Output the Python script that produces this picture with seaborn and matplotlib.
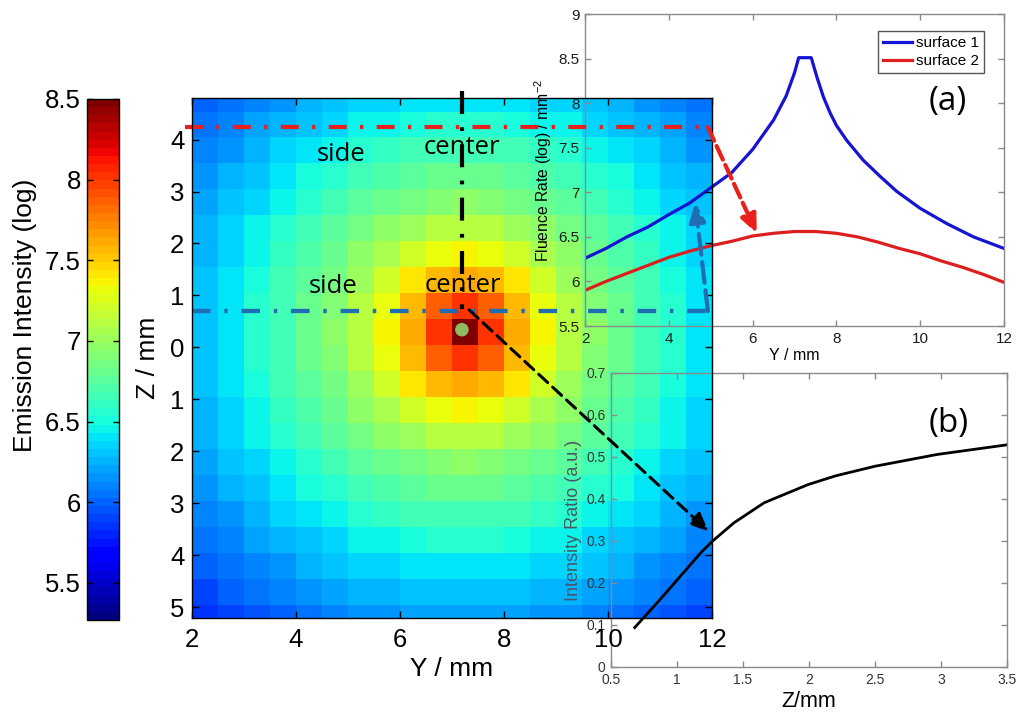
import numpy as np
import pandas as pd
import matplotlib
matplotlib.use("Agg")
import matplotlib.pyplot as plt
import seaborn as sns
from matplotlib.ticker import FormatStrFormatter

# ---------------- data ----------------
# heat-map cells (0.5 mm blocks): Y cell centres (columns) and Z cell centres (rows)
y_centers = [2.25, 2.75, 3.25, 3.75, 4.25, 4.75, 5.25, 5.75, 6.25, 6.75,
             7.25, 7.75, 8.25, 8.75, 9.25, 9.75, 10.25, 10.75, 11.25, 11.75]
z_centers = [4.79, 4.29, 3.79, 3.29, 2.79, 2.29, 1.79, 1.29, 0.79, 0.29,
             -0.21, -0.71, -1.21, -1.71, -2.21, -2.71, -3.21, -3.71, -4.21, -4.71, -5.21]
emission = [
    [5.98, 6.04, 6.11, 6.17, 6.23, 6.29, 6.34, 6.37, 6.40, 6.42, 6.43, 6.42, 6.40, 6.37, 6.34, 6.29, 6.23, 6.17, 6.11, 6.04],
    [6.04, 6.11, 6.18, 6.25, 6.32, 6.38, 6.44, 6.48, 6.52, 6.54, 6.54, 6.54, 6.52, 6.48, 6.44, 6.38, 6.32, 6.25, 6.18, 6.11],
    [6.09, 6.17, 6.25, 6.33, 6.40, 6.48, 6.54, 6.59, 6.64, 6.66, 6.67, 6.66, 6.64, 6.59, 6.54, 6.48, 6.40, 6.33, 6.25, 6.17],
    [6.14, 6.23, 6.32, 6.40, 6.49, 6.57, 6.64, 6.71, 6.76, 6.79, 6.80, 6.79, 6.76, 6.71, 6.64, 6.57, 6.49, 6.40, 6.32, 6.23],
    [6.19, 6.29, 6.38, 6.48, 6.57, 6.66, 6.75, 6.82, 6.88, 6.92, 6.94, 6.92, 6.88, 6.82, 6.75, 6.66, 6.57, 6.48, 6.38, 6.29],
    [6.24, 6.34, 6.44, 6.54, 6.64, 6.75, 6.84, 6.94, 7.03, 7.10, 7.12, 7.10, 7.03, 6.94, 6.84, 6.75, 6.64, 6.54, 6.44, 6.34],
    [6.27, 6.37, 6.48, 6.59, 6.71, 6.82, 6.94, 7.07, 7.22, 7.32, 7.36, 7.32, 7.22, 7.07, 6.94, 6.82, 6.71, 6.59, 6.48, 6.37],
    [6.30, 6.40, 6.52, 6.64, 6.76, 6.88, 7.03, 7.22, 7.42, 7.55, 7.62, 7.55, 7.42, 7.22, 7.03, 6.88, 6.76, 6.64, 6.52, 6.40],
    [6.32, 6.42, 6.54, 6.66, 6.79, 6.92, 7.10, 7.32, 7.55, 7.85, 8.00, 7.85, 7.55, 7.32, 7.10, 6.92, 6.79, 6.66, 6.54, 6.42],
    [6.32, 6.43, 6.54, 6.67, 6.80, 6.94, 7.12, 7.36, 7.62, 8.00, 8.50, 8.00, 7.62, 7.36, 7.12, 6.94, 6.80, 6.67, 6.54, 6.43],
    [6.32, 6.42, 6.54, 6.66, 6.79, 6.92, 7.10, 7.32, 7.55, 7.85, 8.00, 7.85, 7.55, 7.32, 7.10, 6.92, 6.79, 6.66, 6.54, 6.42],
    [6.30, 6.40, 6.52, 6.64, 6.76, 6.88, 7.03, 7.22, 7.42, 7.55, 7.62, 7.55, 7.42, 7.22, 7.03, 6.88, 6.76, 6.64, 6.52, 6.40],
    [6.27, 6.37, 6.48, 6.59, 6.71, 6.82, 6.94, 7.07, 7.22, 7.32, 7.36, 7.32, 7.22, 7.07, 6.94, 6.82, 6.71, 6.59, 6.48, 6.37],
    [6.24, 6.34, 6.44, 6.54, 6.64, 6.75, 6.84, 6.94, 7.03, 7.10, 7.12, 7.10, 7.03, 6.94, 6.84, 6.75, 6.64, 6.54, 6.44, 6.34],
    [6.19, 6.29, 6.38, 6.48, 6.57, 6.66, 6.75, 6.82, 6.88, 6.92, 6.94, 6.92, 6.88, 6.82, 6.75, 6.66, 6.57, 6.48, 6.38, 6.29],
    [6.14, 6.23, 6.32, 6.40, 6.49, 6.57, 6.64, 6.71, 6.76, 6.79, 6.80, 6.79, 6.76, 6.71, 6.64, 6.57, 6.49, 6.40, 6.32, 6.23],
    [6.09, 6.17, 6.25, 6.33, 6.40, 6.48, 6.54, 6.59, 6.64, 6.66, 6.67, 6.66, 6.64, 6.59, 6.54, 6.48, 6.40, 6.33, 6.25, 6.17],
    [6.04, 6.11, 6.18, 6.25, 6.32, 6.38, 6.44, 6.48, 6.52, 6.54, 6.54, 6.54, 6.52, 6.48, 6.44, 6.38, 6.32, 6.25, 6.18, 6.11],
    [5.98, 6.04, 6.11, 6.17, 6.23, 6.29, 6.34, 6.37, 6.40, 6.42, 6.43, 6.42, 6.40, 6.37, 6.34, 6.29, 6.23, 6.17, 6.11, 6.04],
    [5.92, 5.98, 6.04, 6.09, 6.14, 6.19, 6.24, 6.27, 6.30, 6.32, 6.32, 6.32, 6.30, 6.27, 6.24, 6.19, 6.14, 6.09, 6.04, 5.98],
    [5.86, 5.91, 5.97, 6.02, 6.06, 6.10, 6.13, 6.17, 6.19, 6.21, 6.21, 6.21, 6.19, 6.17, 6.13, 6.10, 6.06, 6.02, 5.97, 5.91],
]
cbar_ticks = [5.5, 6.0, 6.5, 7.0, 7.5, 8.0, 8.5]
main_y_ticks = [2, 4, 6, 8, 10, 12]
main_z_tick_pos = [4, 3, 2, 1, 0, -1, -2, -3, -4, -5]
main_z_tick_labels = ["4", "3", "2", "1", "0", "1", "2", "3", "4", "5"]

# source position and guide lines (main map, mm)
source_y = [7.19]
source_z = [0.34]
surface2_z = 4.24      # red guide (surface 2)
surface1_z = 0.70      # blue guide (surface 1)

# inset (a): fluence profiles
surf1_y = [2.0, 2.5, 3.0, 3.5, 4.0, 4.5, 5.0, 5.5, 6.0, 6.5, 6.8, 7.0, 7.1, 7.4,
           7.53, 7.69, 7.85, 8.0, 8.25, 8.64, 9.04, 9.44, 10.0, 10.63, 11.27, 12.0]
surf1_val = [6.26, 6.37, 6.50, 6.61, 6.75, 6.88, 7.05, 7.22, 7.48, 7.81, 8.08, 8.34, 8.51, 8.51,
             8.30, 8.07, 7.89, 7.75, 7.58, 7.36, 7.18, 7.01, 6.82, 6.65, 6.50, 6.37]
surf2_y = [2.0, 2.5, 3.0, 3.5, 4.0, 4.5, 5.0, 5.5, 6.0, 6.5, 7.0, 7.5, 8.0, 8.5,
           9.0, 9.5, 10.0, 10.5, 11.0, 11.5, 12.0]
surf2_val = [5.90, 6.00, 6.09, 6.18, 6.27, 6.34, 6.40, 6.45, 6.51, 6.54, 6.56, 6.56, 6.54, 6.50,
             6.44, 6.37, 6.31, 6.23, 6.16, 6.08, 5.99]

# inset (b): intensity ratio vs depth
ratio_z = [0.68, 0.87, 1.05, 1.18, 1.27, 1.43, 1.66, 1.99, 2.2, 2.5, 2.97, 3.5]
ratio_val = [0.094, 0.16, 0.225, 0.272, 0.30, 0.343, 0.391, 0.434, 0.455, 0.478, 0.506, 0.529]

# ---------------- figure ----------------
plt.rcParams["font.family"] = ["Liberation Sans", "DejaVu Sans"]
plt.rcParams["mathtext.default"] = "regular"

W, H = 1021, 715
fig = plt.figure(figsize=(W / 100, H / 100), dpi=100, facecolor="white")


def rect(l, t, r, b):
    return [l / W, 1 - b / H, (r - l) / W, (b - t) / H]


ax_h = fig.add_axes(rect(192, 98, 712, 618))
cax = fig.add_axes(rect(87, 99, 119, 620))
ax_a = fig.add_axes(rect(585, 14, 1004, 326))
ax_b = fig.add_axes(rect(611, 373, 1007, 667))
ov = fig.add_axes(rect(192, 98, 712, 618))
ax_h.set_zorder(0)
ax_a.set_zorder(1)
ax_b.set_zorder(1)
ov.set_zorder(3)

# heat map
df = pd.DataFrame(emission, index=z_centers, columns=y_centers)
sns.heatmap(df, ax=ax_h, cmap=plt.get_cmap("jet", 64), vmin=5.27, vmax=8.5,
            cbar_ax=cax, xticklabels=False, yticklabels=False)
ax_h.set_xlim(0, 20)
ax_h.set_ylim(20.5, 0.48)
ax_h.set_xlabel("")
ax_h.set_ylabel("")
ax_h.tick_params(left=False, bottom=False)

# colour bar
cb = ax_h.collections[0].colorbar
cb.set_ticks(cbar_ticks)
cb.ax.yaxis.set_major_formatter(FormatStrFormatter("%g"))
cb.ax.tick_params(axis="y", left=True, right=True, labelleft=True, labelright=False,
                  direction="in", length=4, width=1, labelsize=18.5, pad=4.5)
cb.ax.yaxis.set_label_position("left")
cb.set_label("Emission Intensity (log)", fontsize=19)
cb.ax.yaxis.set_label_coords(-1.55, 0.585)
cb.outline.set_edgecolor("black")
cb.outline.set_linewidth(1)

# overlay axes in mm for the main map
ov.set_facecolor("none")
ov.set_xlim(2, 12)
ov.set_ylim(-5.21, 4.80)
ov.set_xticks(main_y_ticks)
ov.set_yticks(main_z_tick_pos)
ov.set_yticklabels(main_z_tick_labels)
ov.tick_params(direction="in", top=True, right=True, length=5, width=1,
               labelsize=18.5, colors="black")
ov.tick_params(axis="x", pad=7)
ov.tick_params(axis="y", pad=5.5)
ov.set_xlabel("Y / mm", fontsize=19, labelpad=4)
ov.set_ylabel("Z / mm", fontsize=19, labelpad=7)
for s in ov.spines.values():
    s.set_color("black")
    s.set_linewidth(1)

red = "#e8201c"
blue_guide = "#1f6db3"
dashdot = (0, (4.3, 3.2, 0.8, 3.2))

ov.plot([1.87, 11.92], [surface2_z, surface2_z], color=red, lw=3, ls=dashdot,
        clip_on=False, solid_capstyle="butt")
ov.plot([2.0, 11.92], [surface1_z, surface1_z], color=blue_guide, lw=3.1, ls=dashdot,
        clip_on=False)
ov.plot([source_y[0], source_y[0]], [4.94, 0.74], color="black", lw=3,
        ls=(0, (5.5, 3.2, 0.9, 3.2)), clip_on=False)
sns.scatterplot(x=source_y, y=source_z, ax=ov, s=95, color="#8dbb5e",
                edgecolor="none", zorder=5, legend=False)

ov.text(4.87, 3.71, "side", fontsize=18.5, family="Open Sans", ha="center", va="center")
ov.text(7.19, 3.84, "center", fontsize=18.5, family="Open Sans", ha="center", va="center")
ov.text(4.71, 1.18, "side", fontsize=18.5, family="Open Sans", ha="center", va="center")
ov.text(7.21, 1.20, "center", fontsize=18.5, family="Open Sans", ha="center", va="center")

# connecting arrows
ov.annotate("", xy=(6.10, 6.54), xycoords=ax_a.transData,
            xytext=(11.92, surface2_z), textcoords=ov.transData,
            arrowprops=dict(arrowstyle="-|>,head_length=0.55,head_width=0.24",
                            mutation_scale=20, color=red, lw=3,
                            linestyle=(0, (3.6, 1.4)), shrinkA=0, shrinkB=0),
            annotation_clip=False)
ov.annotate("", xy=(4.63, 6.88), xycoords=ax_a.transData,
            xytext=(11.92, surface1_z), textcoords=ov.transData,
            arrowprops=dict(arrowstyle="-|>,head_length=0.55,head_width=0.24",
                            mutation_scale=20, color=blue_guide, lw=3,
                            linestyle=(0, (5, 1.8)), shrinkA=0, shrinkB=0),
            annotation_clip=False)
ov.annotate("", xy=(1.239, 0.323), xycoords=ax_b.transData,
            xytext=(7.33, 0.72), textcoords=ov.transData,
            arrowprops=dict(arrowstyle="-|>,head_length=0.55,head_width=0.24",
                            mutation_scale=20, color="black", lw=2.2,
                            linestyle=(0, (4, 2.2)), shrinkA=0, shrinkB=0),
            annotation_clip=False)

# ---------------- inset (a) ----------------
grey = "#8a8a8a"
for ax in (ax_a, ax_b):
    ax.set_facecolor("none")
    for s in ax.spines.values():
        s.set_color(grey)
        s.set_linewidth(1)
    ax.tick_params(direction="in", top=True, right=True, length=4, width=1,
                   color=grey, labelcolor="#1c1c1c", pad=4)

sns.lineplot(x=surf1_y, y=surf1_val, ax=ax_a, color="#1414d2", lw=2.3, label="surface 1")
sns.lineplot(x=surf2_y, y=surf2_val, ax=ax_a, color="#dc1e1e", lw=2.3, label="surface 2")
ax_a.set_xlim(2, 12)
ax_a.set_ylim(5.5, 9)
ax_a.set_xticks([2, 4, 6, 8, 10, 12])
ax_a.set_yticks([5.5, 6, 6.5, 7, 7.5, 8, 8.5, 9])
ax_a.yaxis.set_major_formatter(FormatStrFormatter("%g"))
ax_a.tick_params(labelsize=11)
ax_a.set_xlabel("Y / mm", fontsize=11.5, labelpad=2)
ax_a.set_ylabel("Fluence Rate (log) / mm$^{-2}$", fontsize=11.3, labelpad=3)
leg = ax_a.legend(loc="upper right", bbox_to_anchor=(0.952, 0.946), borderaxespad=0,
                  fancybox=False, edgecolor="#555555", framealpha=1, fontsize=11,
                  handlelength=1.9, handletextpad=0.2, borderpad=0.35, labelspacing=0.25)
leg.get_frame().set_linewidth(1)
ax_a.text(10.66, 8.02, "(a)", fontsize=24, family="Open Sans", ha="center", va="center")

# ---------------- inset (b) ----------------
sns.lineplot(x=ratio_z, y=ratio_val, ax=ax_b, color="black", lw=2.0)
ax_b.set_xlim(0.5, 3.5)
ax_b.set_ylim(0, 0.7)
ax_b.set_xticks([0.5, 1, 1.5, 2, 2.5, 3, 3.5])
ax_b.set_yticks([0, 0.1, 0.2, 0.3, 0.4, 0.5, 0.6, 0.7])
ax_b.xaxis.set_major_formatter(FormatStrFormatter("%g"))
ax_b.yaxis.set_major_formatter(FormatStrFormatter("%g"))
ax_b.tick_params(labelsize=10, labelcolor="#333333")
ax_b.set_xlabel("Z/mm", fontsize=15.5, labelpad=3)
ax_b.set_ylabel("Intensity Ratio (a.u.)", fontsize=13, color="#4a5568", labelpad=3)
ax_b.text(3.06, 0.579, "(b)", fontsize=24, family="Open Sans", ha="center", va="center")

fig.savefig("out.png", dpi=100)
